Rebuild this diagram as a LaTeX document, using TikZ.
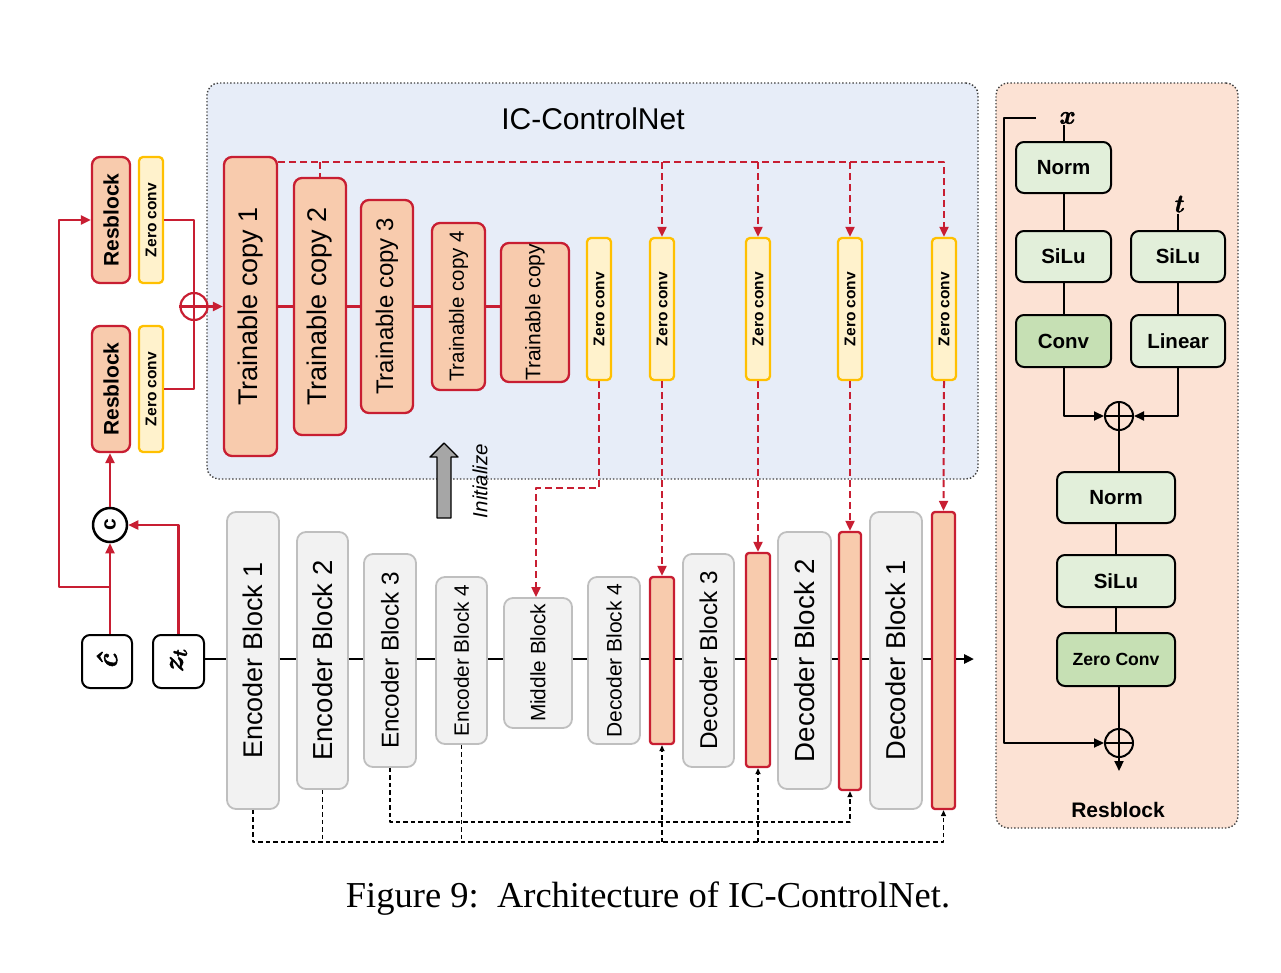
\documentclass[tikz,border=0pt]{standalone}
\usepackage{fontspec}
\setmainfont{Liberation Serif}
\setsansfont{Liberation Sans}
\newfontfamily\lmbi{Latin Modern Roman}[BoldItalicFeatures={FakeBold=1.5}]
\usetikzlibrary{arrows.meta,calc}
\definecolor{redc}{RGB}{200,30,50}
\definecolor{peach}{RGB}{248,203,173}
\definecolor{zcf}{RGB}{255,242,204}
\definecolor{zcbd}{RGB}{255,192,0}
\definecolor{grf}{RGB}{242,242,242}
\definecolor{grb}{RGB}{191,191,191}
\definecolor{cnbg}{RGB}{231,237,248}
\definecolor{rbbg}{RGB}{252,226,212}
\definecolor{gl}{RGB}{226,239,218}
\definecolor{gd}{RGB}{198,224,180}
\definecolor{arrg}{RGB}{166,166,166}
\newcommand{\fs}[1]{\fontsize{#1}{#1}\selectfont}
\newcommand{\mybox}[7][]{\node[#1, minimum width={#5-#3}, minimum height={#6-#4}] (#2) at ({(#3+#5)/2},{(#4+#6)/2}) {#7};}
\newcommand{\rt}[1]{\rotatebox{90}{#1}}
\newcommand{\bi}{\lmbi\bfseries\itshape}
\tikzset{
 tcb/.style={draw=redc, fill=peach, line width=2.3pt, rounded corners=8pt, inner sep=0pt, font=\sffamily},
 barb/.style={draw=redc, fill=peach, line width=2.3pt, rounded corners=3pt, inner sep=0pt},
 zcv/.style={draw=zcbd, fill=zcf, line width=2.3pt, rounded corners=4pt, inner sep=0pt, font=\sffamily\bfseries\fs{15.5}},
 gblk/.style={draw=grb, fill=grf, line width=1.8pt, rounded corners=9pt, inner sep=0pt},
 gbox/.style={draw=black, fill=gl, line width=2pt, rounded corners=8pt, inner sep=0pt, font=\sffamily\bfseries\fs{20.5}},
 kbox/.style={draw=black, fill=white, line width=2pt, rounded corners=8pt, inner sep=0pt},
 opl/.style={circle, draw=#1, line width=2.2pt, minimum size=27pt, inner sep=0pt},
 panel/.style={draw=black!75, dotted, line width=1.4pt, rounded corners=12pt, inner sep=0pt},
 rl/.style={draw=redc, line width=2.3pt},
 rd/.style={draw=redc, line width=2pt, dash pattern=on 7pt off 4pt},
 kl/.style={draw=black, line width=2pt},
 kd/.style={draw=black, line width=1.4pt, dash pattern=on 4.5pt off 3pt},
 tip/.style={-{Triangle[length=10pt,width=9pt]}},
 stip/.style={-{Triangle[length=6pt,width=5pt]}},
}
\begin{document}
\begin{tikzpicture}[x=1pt,y=-1pt,line join=round]
\useasboundingbox (0,0) rectangle (1281,972);
% panels
\mybox[panel, fill=cnbg]{cn}{207}{83}{978}{479}{}
\mybox[panel, fill=rbbg]{rbp}{996}{83}{1238}{828}{}
\node[font=\sffamily\fs{30}] (cntitle) at (593,119) {IC-ControlNet};
% left side
\mybox[tcb, font=\sffamily\bfseries\fs{21}]{rbt}{92}{157}{130}{283}{\rt{Resblock}}
\mybox[zcv]{zct}{139}{157}{163}{283}{\rt{Zero conv}}
\mybox[tcb, font=\sffamily\bfseries\fs{21}]{rbb}{92}{326}{130}{452}{\rt{Resblock}}
\mybox[zcv]{zcl}{139}{326}{163}{452}{\rt{Zero conv}}
\node[opl=redc] (opa) at (194,306.5) {};
\draw[rl] (opa.north) -- (opa.south) (opa.west) -- (opa.east);
\node[circle, draw=black, line width=2.5pt, minimum size=34pt, inner sep=0pt, font=\sffamily\bfseries\fs{21}] (cc) at (110,525) {\rt{c}};
\mybox[kbox, font=\bi\fs{29}]{chat}{82}{635}{132}{688}{\rt{\^{c}}}
\mybox[kbox, font=\bi\fs{29}]{zt}{153}{635}{204}{688}{\rt{z\raisebox{-4pt}{\fs{21}t}}}
% trainable copies
\mybox[tcb, font=\sffamily\fs{27}]{tc1}{224}{157}{277}{456}{\rt{Trainable copy 1}}
\mybox[tcb, font=\sffamily\fs{27}]{tc2}{294}{178}{346}{435}{\rt{Trainable copy 2}}
\mybox[tcb, font=\sffamily\fs{24}]{tc3}{361}{200}{413}{413}{\rt{Trainable copy 3}}
\mybox[tcb, font=\sffamily\fs{20.5}]{tc4}{432}{223}{485}{390}{\rt{Trainable copy 4}}
\mybox[tcb, font=\sffamily\fs{21}]{tc5}{501}{243}{569}{382}{\rt{Trainable copy}}
% zero convs
\mybox[zcv]{zc1}{587}{238}{611}{380}{\rt{Zero conv}}
\mybox[zcv]{zc2}{650}{238}{674}{380}{\rt{Zero conv}}
\mybox[zcv]{zc3}{746}{238}{770}{380}{\rt{Zero conv}}
\mybox[zcv]{zc4}{838}{238}{862}{380}{\rt{Zero conv}}
\mybox[zcv]{zc5}{932}{238}{956}{380}{\rt{Zero conv}}
% U-Net blocks
\mybox[gblk, font=\sffamily\fs{27}]{eb1}{227}{512}{279}{809}{\rt{Encoder Block 1}}
\mybox[gblk, font=\sffamily\fs{27.5}]{eb2}{297}{532}{348}{789}{\rt{Encoder Block 2}}
\mybox[gblk, font=\sffamily\fs{24.3}]{eb3}{364}{554}{416}{767}{\rt{Encoder Block 3}}
\mybox[gblk, font=\sffamily\fs{20.8}]{eb4}{436}{577}{487}{744}{\rt{Encoder Block 4}}
\mybox[gblk, font=\sffamily\fs{20.8}]{mid}{504}{598}{572}{728}{\rt{Middle Block}}
\mybox[gblk, font=\sffamily\fs{21}]{db4}{588}{577}{640}{744}{\rt{Decoder Block 4}}
\mybox[barb]{bar1}{650}{577}{674}{744}{}
\mybox[gblk, font=\sffamily\fs{24.3}]{db3}{683}{554}{734}{767}{\rt{Decoder Block 3}}
\mybox[barb]{bar2}{746}{553}{770}{767}{}
\mybox[gblk, font=\sffamily\fs{27.7}]{db2}{778}{532}{831}{789}{\rt{Decoder Block 2}}
\mybox[barb]{bar3}{839}{532}{861}{790}{}
\mybox[gblk, font=\sffamily\fs{27.3}]{db1}{870}{512}{922}{809}{\rt{Decoder Block 1}}
\mybox[barb]{bar4}{932}{512}{955}{809}{}
% initialize arrow
\draw[line width=1.4pt, fill=arrg] (437,518) -- (437,457) -- (430,457) -- (444,443) -- (458,457) -- (451,457) -- (451,518) -- cycle;
\node[font=\sffamily\itshape\fs{20.5}] (initlbl) at (480,481) {\rt{Initialize}};
% resblock panel
\mybox[gbox]{n1}{1016}{142}{1111}{193}{Norm}
\mybox[gbox]{s1}{1016}{231}{1111}{282}{SiLu}
\mybox[gbox, fill=gd]{cv}{1016}{315}{1111}{367}{Conv}
\mybox[gbox]{s2}{1131}{231}{1225}{282}{SiLu}
\mybox[gbox]{ln}{1131}{315}{1225}{367}{Linear}
\mybox[gbox]{n2}{1057}{472}{1175}{523}{Norm}
\mybox[gbox]{s3}{1057}{555}{1175}{607}{SiLu}
\mybox[gbox, fill=gd, font=\sffamily\bfseries\fs{17.6}]{zcr}{1057}{633}{1175}{686}{Zero Conv}
\node[opl=black, minimum size=28pt, line width=2pt] (opr1) at (1119,416) {};
\draw[kl] (opr1.north) -- (opr1.south) (opr1.west) -- (opr1.east);
\node[opl=black, minimum size=28pt, line width=2pt] (opr2) at (1119,743) {};
\draw[kl] (opr2.north) -- (opr2.south) (opr2.west) -- (opr2.east);
\node[inner sep=1pt, font=\bi\fs{26}] (xl) at (1066,118) {x};
\node[inner sep=1pt, font=\bi\fs{26}] (tl) at (1178,204) {t};
\node[font=\sffamily\bfseries\fs{21}] (rblbl) at (1118,810) {Resblock};
\node[font=\fs{36.5}] (cap) at (648,899) {Figure 9:\ \ Architecture of IC-ControlNet.};
% ---- connectors: left
\draw[rl] (zct.east) -| (opa.north);
\draw[rl] (zcl.east) -| (opa.south);
\draw[rl, tip] (opa.east) -- (tc1.west);
\draw[rl, tip] (cc.south |- chat.north) -- (cc.south);
\draw[rl, tip] (cc.north) -- (cc.north |- rbb.south);
\draw[rl, tip] (zt.north) |- (cc.east);
\coordinate (br) at (110,587);
\coordinate (lc) at (59,587);
\draw[rl, tip] (br) -- (lc) |- (rbt.west);
% trainable chain
\draw[rl] (tc1.east) -- (tc2.west) (tc2.east) -- (tc3.west) (tc3.east) -- (tc4.west) (tc4.east) -- (tc4.east -| tc5.west);
\coordinate (top) at (944,162);
\draw[rd, tip] (tc1.east |- top) -| (zc5.north);
\draw[rd] (tc2.north |- top) -- (tc2.north);
\draw[rd] ($(tc3.north)+(6,0)$ |- top) -- ($(tc3.north)+(6,0)$);
\draw[rd] ($(tc4.north)+(2,0)$ |- top) -- ($(tc4.north)+(2,0)$);
\foreach \z in {zc2,zc3,zc4} \draw[rd, tip] (\z.north |- top) -- (\z.north);
\coordinate (mj) at (0,488);
\draw[rd, tip] (zc1.south) |- ($(mid.north |- mj)+(-2,0)$) -- ($(mid.north)+(-2,0)$);
\draw[rd, tip] (zc2.south) -- (bar1.north);
\draw[rd, tip] (zc3.south) -- (bar2.north);
\draw[rd, tip] (zc4.south) -- (bar3.north);
\draw[rd, tip] (zc5.south) -- (bar4.north);
% main line
\coordinate (ml) at (0,659);
\coordinate (mend) at (974,659);
\foreach \a/\b in {zt/eb1,eb1/eb2,eb2/eb3,eb3/eb4,eb4/mid,mid/db4,db4/bar1,bar1/db3,db3/bar2,bar2/db2,db2/bar3,bar3/db1,db1/bar4}
  \draw[kl, line width=2.5pt] (\a.east |- ml) -- (\b.west |- ml);
\draw[kl, line width=2.5pt, tip] (bar4.east |- ml) -- (mend);
% skip connections
\coordinate (lo) at (0,842);
\coordinate (hi) at (0,822);
\draw[kd, stip] (eb1.south) |- (bar4.south |- lo) -- (bar4.south);
\draw[kd] (eb2.south) -- (eb2.south |- lo);
\draw[kd] (eb4.south) -- (eb4.south |- lo);
\draw[kd, stip] (bar1.south |- lo) -- (bar1.south);
\draw[kd, stip] (bar2.south |- lo) -- (bar2.south);
\draw[kd, stip] (eb3.south) |- (bar3.south |- hi) -- (bar3.south);
% resblock panel connectors
\draw[kl] (xl.south -| n1.north) -- (n1.north);
\draw[kl] (n1) -- (s1);
\draw[kl] (s1) -- (cv);
\draw[kl] (tl.south -| s2.north) -- (s2.north);
\draw[kl] (s2) -- (ln);
\draw[kl, tip] (cv.south) |- (opr1.west);
\draw[kl, tip] (ln.south) |- (opr1.east);
\draw[kl] (opr1.south) -- (opr1.south |- n2.north);
\draw[kl] (n2) -- (s3);
\draw[kl] (s3) -- (zcr);
\draw[kl] (opr2.north |- zcr.south) -- (opr2.north);
\coordinate (sk1) at (1036,118);
\coordinate (sk2) at (1004,118);
\coordinate (rout) at (1119,771);
\draw[kl, tip] (sk1) -- (sk2) |- (opr2.west);
\draw[kl, tip] (opr2.south) -- (rout);
\end{tikzpicture}
\end{document}
